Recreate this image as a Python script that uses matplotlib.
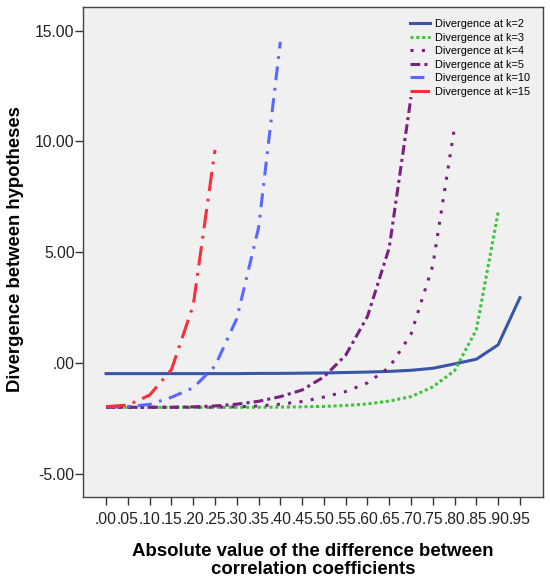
import matplotlib
matplotlib.use("Agg")
import matplotlib.pyplot as plt
import numpy as np

plt.rcParams["font.family"] = ["Liberation Sans", "DejaVu Sans"]
plt.rcParams["lines.scale_dashes"] = False

# x categories (absolute difference between correlation coefficients)
diffs = [0.00, 0.05, 0.10, 0.15, 0.20, 0.25, 0.30, 0.35, 0.40, 0.45,
         0.50, 0.55, 0.60, 0.65, 0.70, 0.75, 0.80, 0.85, 0.90, 0.95]
x_labels = [".00", ".05", ".10", ".15", ".20", ".25", ".30", ".35", ".40", ".45",
            ".50", ".55", ".60", ".65", ".70", ".75", ".80", ".85", ".90", ".95"]

# divergence values (shorter series stop earlier)
k2 = [-0.48, -0.48, -0.48, -0.48, -0.48, -0.48, -0.48, -0.47, -0.47, -0.46,
      -0.45, -0.43, -0.41, -0.38, -0.33, -0.24, -0.04, 0.17, 0.82, 2.95]
k3 = [-2.0, -2.0, -2.0, -2.0, -2.0, -2.0, -2.0, -2.0, -1.99, -1.98,
      -1.96, -1.92, -1.85, -1.72, -1.52, -1.08, -0.35, 1.5, 6.8]
k4 = [-2.0, -2.0, -2.0, -2.0, -2.0, -2.0, -1.98, -1.94, -1.86, -1.74,
      -1.54, -1.29, -0.9, -0.2, 1.3, 4.4, 10.65]
k5 = [-2.0, -2.0, -2.0, -2.0, -1.98, -1.94, -1.86, -1.73, -1.52, -1.22,
      -0.63, 0.35, 2.1, 5.2, 12.0]
k10 = [-1.97, -1.97, -1.87, -1.55, -1.12, -0.14, 2.0, 6.1, 14.5]
k15 = [-1.97, -1.9, -1.45, -0.3, 2.6, 9.62]

series = [
    ("Divergence at k=2", k2, "#3A55A8", "-"),
    ("Divergence at k=3", k3, "#3CC43C", (0, (2.2, 2.0))),
    ("Divergence at k=4", k4, "#7A2080", (0, (2.2, 6.0))),
    ("Divergence at k=5", k5, "#7A2080", (0, (7.0, 3.0, 2.2, 3.0))),
    ("Divergence at k=10", k10, "#5B68FF", (0, (10.0, 5.5, 2.0, 5.5))),
    ("Divergence at k=15", k15, "#F5303A", (0, (14.0, 5.5, 2.0, 5.5))),
]

fig = plt.figure(figsize=(5.5, 5.79), dpi=100)
ax = fig.add_axes([83 / 550, 1 - 497 / 579, 460 / 550, 490 / 579])
ax.set_facecolor("#F0F0F0")

for label, vals, color, ls in series:
    xs = diffs[:len(vals)]
    ax.plot(xs, vals, color=color, linestyle=ls, linewidth=2.2,
            dash_capstyle="butt", label=label)

ax.set_xlim(-0.053, 1.003)
ax.set_ylim(-6.05, 16.07)
ax.set_xticks(diffs)
ax.set_xticklabels(x_labels)
ax.set_yticks([-5, 0, 5, 10, 15])
ax.set_yticklabels(["-5.00", ".00", "5.00", "10.00", "15.00"])
ax.tick_params(axis="both", direction="out", length=5.5, width=1,
               color="#333333", labelsize=11.3, labelcolor="#222222")
ax.tick_params(axis="y", pad=0.5)
ax.tick_params(axis="x", pad=5)

for sp in ax.spines.values():
    sp.set_color("#444444")
    sp.set_linewidth(1)

ax.set_xlabel("Absolute value of the difference between\ncorrelation coefficients",
              fontsize=13.4, fontweight="bold", linespacing=1.08)
ax.xaxis.set_label_coords(0.5, -0.129)
ax.xaxis.label.set_va("center")
ax.set_ylabel("Divergence between hypotheses", fontsize=13.3, fontweight="bold")
ax.yaxis.set_label_coords(-0.146, 0.506)
ax.yaxis.label.set_va("center")

ax.legend(loc="upper left", bbox_to_anchor=(0.711, 0.975), frameon=False,
          fontsize=7.9, handlelength=1.85, handletextpad=0.4, labelspacing=0.32,
          borderpad=0, borderaxespad=0)

fig.savefig("out.png", dpi=100, facecolor="white")
